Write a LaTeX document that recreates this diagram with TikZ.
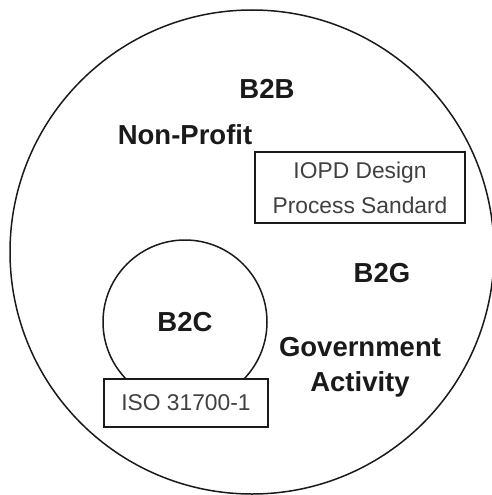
\documentclass[tikz,border=0pt]{standalone}
\usepackage{fontspec}
\setmainfont{Liberation Sans}
\usepackage{tikz}
\usetikzlibrary{positioning}
\definecolor{linec}{HTML}{1A1A1A}
\definecolor{boxtxt}{HTML}{404040}
\tikzset{
  ring/.style={draw=linec, circle, line width=1.5pt, inner sep=0pt},
  tag/.style={draw=linec, fill=white, line width=1.8pt, inner sep=0pt, align=center, text=boxtxt,
    font=\fontsize{22.8}{35}\selectfont},
  lbl/.style={align=center, text=linec, font=\bfseries\fontsize{27.5}{35}\selectfont},
}
\begin{document}
\begin{tikzpicture}[x=1pt,y=-1pt]
  \useasboundingbox (0,0) rectangle (492,495);
  \node[ring, minimum size=484pt] (outer) at (252,252) {};
  \node[ring, minimum size=164pt] (b2c) at (185,322) {};
  \node[lbl] (b2clbl) at (b2c.center) {B2C};
  \node[tag, minimum width=164pt, minimum height=48pt] (iso) at (186,403) {ISO 31700-1};
  \node[tag, minimum width=210pt, minimum height=71pt] (iopd) at (360,187.5) {IOPD Design\\Process Sandard};
  \node[lbl] (b2b) at (267,89) {B2B};
  \node[lbl] (nonprofit) at (185,135) {Non-Profit};
  \node[lbl] (b2g) at (382,273) {B2G};
  \node[lbl] (gov) at (360,367) {Government\\Activity};
\end{tikzpicture}
\end{document}
